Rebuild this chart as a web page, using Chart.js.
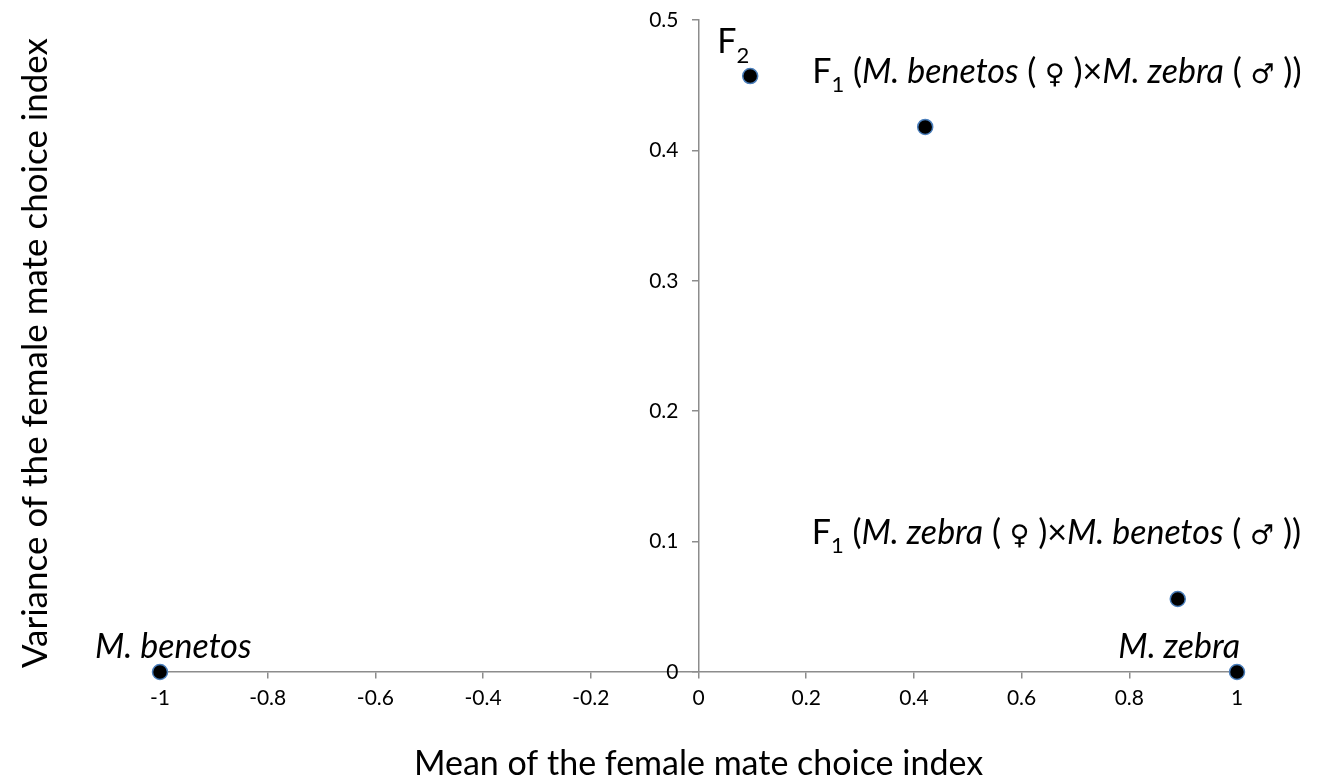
<!DOCTYPE html>
<html>
<head>
<meta charset="utf-8">
<script src="https://cdn.jsdelivr.net/npm/chart.js@4.4.1/dist/chart.umd.min.js"></script>
<style>
  html, body { margin: 0; padding: 0; background: #fff; }
  #wrap { width: 1335px; height: 779px; position: relative; }
</style>
</head>
<body>
<div id="wrap"><canvas id="chart"></canvas></div>
<script>
// data
const pointNames = ['M. benetos', 'F2', 'F1 benetos x zebra', 'F1 zebra x benetos', 'M. zebra'];
const meanValues = [-1, 0.096, 0.421, 0.890, 1];
const varianceValues = [0, 0.457, 0.418, 0.056, 0];

const xTicks = [-1, -0.8, -0.6, -0.4, -0.2, 0, 0.2, 0.4, 0.6, 0.8, 1];
const yTicks = [0, 0.1, 0.2, 0.3, 0.4, 0.5];

const xTitle = 'Mean of the female mate choice index';
const yTitle = 'Variance of the female mate choice index';

// label text per point, as runs: [text, style] (i = italic, s = subscript, g = sex symbol)
const pointLabels = [
    [['M. benetos', 'i']],
    [['F', ''], ['2', 's']],
    [['F', ''], ['1', 's'], [' (', ''], ['M. benetos', 'i'], [' ( ', ''], ['\u2640', 'g'], [' )\u00d7', ''], ['M. zebra', 'i'], [' ( ', ''], ['\u2642', 'g'], [' ))', '']],
    [['F', ''], ['1', 's'], [' (', ''], ['M. zebra', 'i'], [' ( ', ''], ['\u2640', 'g'], [' )\u00d7', ''], ['M. benetos', 'i'], [' ( ', ''], ['\u2642', 'g'], [' ))', '']],
    [['M. zebra', 'i']]
];

// where each label sits relative to its point (px)
const labelOffsets = [
    { dx: -65, dy: -14, align: 'left' },
    { dx: -33, dy: -23, align: 'left' },
    { dx: -113, dy: -44, align: 'left' },
    { dx: -366, dy: -55, align: 'left' },
    { dx: 3, dy: -14, align: 'right' }
];

const FONT = 'Lato, "Open Sans", sans-serif';
const AXIS_GREY = '#8c8c8c';
const LABEL_SIZE = 34;

function runFont(style, size) {
    if (style === 'g') return Math.round(size * 0.8) + 'px "DejaVu Sans", sans-serif';
    const s = style === 's' ? Math.round(size * 0.65) : size;
    return (style === 'i' ? 'italic ' : '') + s + 'px ' + FONT;
}

function drawRuns(ctx, runs, x, y, size, align) {
    let total = 0;
    runs.forEach(([t, st]) => { ctx.font = runFont(st, size); total += ctx.measureText(t).width; });
    let cx = align === 'right' ? x - total : x;
    runs.forEach(([t, st]) => {
        ctx.font = runFont(st, size);
        ctx.fillText(t, cx, st === 's' ? y + size * 0.28 : y);
        cx += ctx.measureText(t).width;
    });
}

const labelPlugin = {
    id: 'pointLabels',
    afterDatasetsDraw(chart) {
        const { ctx, scales: { x, y } } = chart;
        ctx.save();
        ctx.fillStyle = '#000';
        ctx.textBaseline = 'alphabetic';
        ctx.textAlign = 'left';
        pointLabels.forEach((runs, i) => {
            const px = x.getPixelForValue(meanValues[i]);
            const py = y.getPixelForValue(varianceValues[i]);
            const o = labelOffsets[i];
            drawRuns(ctx, runs, px + o.dx, py + o.dy, LABEL_SIZE, o.align);
        });
        ctx.restore();
    }
};

// y tick labels sit left of the axis drawn at x = 0
const yLabelPlugin = {
    id: 'yTickLabels',
    afterDraw(chart) {
        const { ctx, scales: { x, y } } = chart;
        const ax = x.getPixelForValue(0);
        ctx.save();
        ctx.fillStyle = '#000';
        ctx.font = '21px ' + FONT;
        ctx.textAlign = 'right';
        ctx.textBaseline = 'middle';
        yTicks.forEach(v => {
            ctx.fillText(String(v), ax - 20, y.getPixelForValue(v));
        });
        ctx.restore();
    }
};

const titlePlugin = {
    id: 'axisTitles',
    afterDraw(chart) {
        const { ctx, chartArea, scales: { x } } = chart;
        ctx.save();
        ctx.fillStyle = '#000';
        ctx.font = LABEL_SIZE + 'px ' + FONT;
        ctx.textAlign = 'center';
        ctx.textBaseline = 'alphabetic';
        ctx.fillText(xTitle, x.getPixelForValue(0), 775);
        ctx.font = '35px ' + FONT;
        ctx.translate(47, (chartArea.top + chartArea.bottom) / 2 + 7);
        ctx.rotate(-Math.PI / 2);
        ctx.fillText(yTitle, 0, 0);
        ctx.restore();
    }
};

new Chart(document.getElementById('chart'), {
    type: 'scatter',
    data: {
        datasets: [{
            label: 'choice',
            data: meanValues.map((m, i) => ({ x: m, y: varianceValues[i] })),
            backgroundColor: '#000',
            borderColor: '#4a7ebb',
            borderWidth: 1.5,
            pointRadius: 7.5,
            pointHoverRadius: 7.5,
            clip: false
        }]
    },
    options: {
        responsive: true,
        maintainAspectRatio: false,
        animation: false,
        events: [],
        layout: { padding: { left: 160, right: 98, top: 20, bottom: 107 } },
        plugins: {
            legend: { display: false },
            tooltip: { enabled: false }
        },
        scales: {
            x: {
                type: 'linear',
                position: { y: 0 },
                min: -1,
                max: 1,
                afterBuildTicks: axis => { axis.ticks = xTicks.map(v => ({ value: v })); },
                grid: { drawOnChartArea: false, drawTicks: true, tickLength: 6, color: AXIS_GREY, lineWidth: 1.5 },
                border: { color: AXIS_GREY, width: 1.5 },
                ticks: {
                    color: '#000',
                    padding: 8,
                    maxRotation: 0,
                    font: { family: FONT, size: 21 },
                    callback: v => String(Math.round(v * 10) / 10)
                }
            },
            y: {
                type: 'linear',
                position: { x: 0 },
                min: 0,
                max: 0.5,
                afterBuildTicks: axis => { axis.ticks = yTicks.map(v => ({ value: v })); },
                grid: { drawOnChartArea: false, drawTicks: true, tickLength: 6, color: AXIS_GREY, lineWidth: 1.5 },
                border: { color: AXIS_GREY, width: 1.5 },
                ticks: { display: false }
            }
        }
    },
    plugins: [labelPlugin, yLabelPlugin, titlePlugin]
});
</script>
</body>
</html>
